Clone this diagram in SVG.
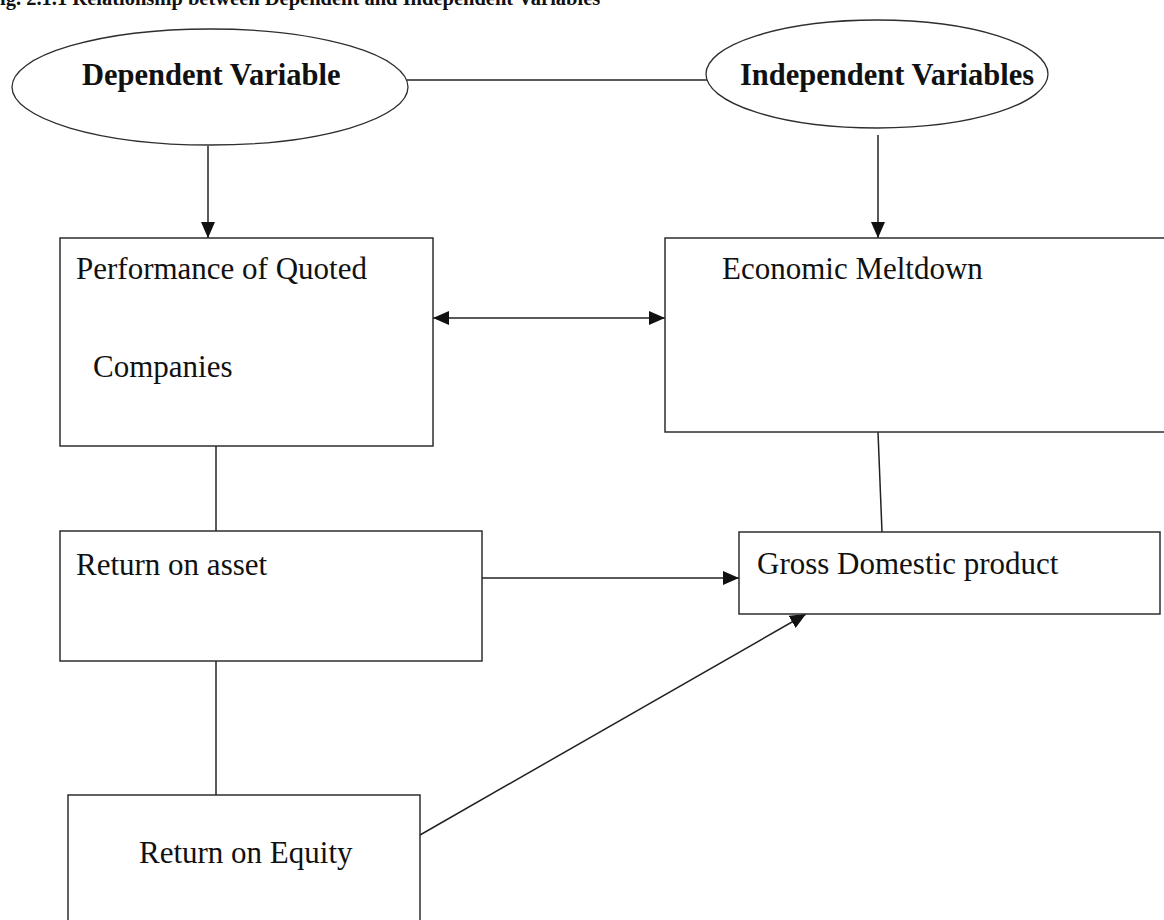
<svg xmlns="http://www.w3.org/2000/svg" width="1164" height="920" viewBox="0 0 1164 920">
<style>
.box{fill:#fff;stroke:#2e2e2e;stroke-width:1.5}
.ell{fill:#fff;stroke:#2e2e2e;stroke-width:1.3}
.ln{fill:none;stroke:#222;stroke-width:1.5}
.t{font-family:"Liberation Serif","Times New Roman",serif;font-size:31px;fill:#111}
.tb{font-family:"Liberation Serif","Times New Roman",serif;font-size:30.5px;font-weight:bold;fill:#111}
.title{font-family:"Liberation Serif","Times New Roman",serif;font-size:20.5px;font-weight:bold;fill:#111}
</style>
<defs>
<marker id="ah" viewBox="0 0 16 14" markerWidth="16" markerHeight="14" refX="16" refY="7" orient="auto-start-reverse" markerUnits="userSpaceOnUse">
<path d="M0,0 L16,7 L0,14 z" fill="#111"/>
</marker>
</defs>
<rect width="1164" height="920" fill="#fff"/>
<text class="title" x="0" y="5">ig. 2.1.1 Relationship between Dependent and Independent Variables</text>
<g id="connectors">
<line class="ln" x1="407" y1="80" x2="710" y2="80"/>
<line class="ln" x1="208" y1="146" x2="208" y2="238" marker-end="url(#ah)"/>
<line class="ln" x1="878" y1="135" x2="878" y2="238" marker-end="url(#ah)"/>
<line class="ln" x1="433" y1="318" x2="665" y2="318" marker-start="url(#ah)" marker-end="url(#ah)"/>
<line class="ln" x1="216" y1="446" x2="216" y2="531"/>
<line class="ln" x1="878" y1="432" x2="882" y2="532"/>
<line class="ln" x1="482" y1="578" x2="739" y2="578" marker-end="url(#ah)"/>
<line class="ln" x1="216" y1="661" x2="216" y2="795"/>
<line class="ln" x1="420" y1="835" x2="806" y2="614" marker-end="url(#ah)"/>
</g>
<g id="dependent">
<ellipse class="ell" cx="210" cy="87" rx="198" ry="58"/>
<text class="tb" x="82" y="85">Dependent Variable</text>
</g>
<g id="independent">
<ellipse class="ell" cx="877" cy="74" rx="171" ry="54"/>
<text class="tb" x="740" y="85">Independent Variables</text>
</g>
<g id="performance">
<rect class="box" x="60" y="238" width="373" height="208"/>
<text class="t" x="76" y="279">Performance of Quoted</text>
<text class="t" x="93" y="377">Companies</text>
</g>
<g id="economic">
<rect class="box" x="665" y="238" width="520" height="194"/>
<text class="t" x="722" y="279">Economic Meltdown</text>
</g>
<g id="roa">
<rect class="box" x="60" y="531" width="422" height="130"/>
<text class="t" x="76" y="575">Return on asset</text>
</g>
<g id="gdp">
<rect class="box" x="739" y="532" width="421" height="82"/>
<text class="t" x="757" y="574">Gross Domestic product</text>
</g>
<g id="roe">
<rect class="box" x="68" y="795" width="352" height="140"/>
<text class="t" x="139" y="863">Return on Equity</text>
</g>
</svg>
